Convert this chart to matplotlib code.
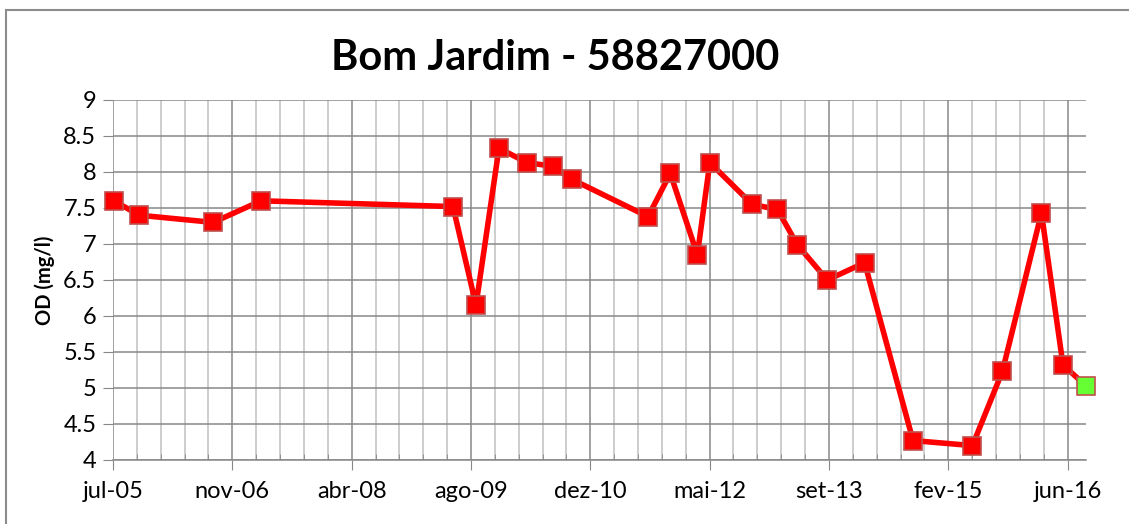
import numpy as np
import matplotlib
matplotlib.use('Agg')
import matplotlib.pyplot as plt
import matplotlib.dates as mdates
from matplotlib.ticker import FixedLocator, FuncFormatter
from matplotlib.patches import Rectangle

# sample dates and dissolved oxygen (mg/l)
dates = ['2005-07-22', '2005-11-04', '2006-09-09', '2007-03-28', '2009-06-06',
         '2009-09-10', '2009-12-15', '2010-04-11', '2010-07-27', '2010-10-14',
         '2011-08-29', '2011-11-30', '2012-03-22', '2012-05-13', '2012-11-06',
         '2013-02-19', '2013-05-13', '2013-09-15', '2014-02-18', '2014-09-08',
         '2015-05-14', '2015-09-16', '2016-02-26', '2016-05-26', '2016-08-30']
od = [7.6, 7.4, 7.3, 7.6, 7.52,
      6.15, 8.33, 8.13, 8.08, 7.9,
      7.38, 7.98, 6.85, 8.13, 7.55,
      7.48, 6.99, 6.5, 6.74, 4.27,
      4.2, 5.23, 7.43, 5.32, 5.03]

title = 'Bom Jardim - 58827000'
ylabel = 'OD (mg/l)'
axis_start = '2005-07-18'
major_days = 498
meses = ['jan', 'fev', 'mar', 'abr', 'mai', 'jun', 'jul', 'ago', 'set', 'out', 'nov', 'dez']

plt.rcParams['font.family'] = ['Lato', 'DejaVu Sans']

x = mdates.datestr2num(dates)
x0 = mdates.datestr2num(axis_start)

fig = plt.figure(figsize=(11.29, 5.24), dpi=100)
ax = fig.add_axes([113/1129, 1 - 460/524, (1086 - 113)/1129, 360/524])

# chart frame
fig.patches.append(Rectangle((6/1129, -0.1), 1.2, 1 - 10/524 + 0.1, transform=fig.transFigure,
                             fill=False, edgecolor='#8c8c8c', linewidth=1.5))

ax.plot(x, od, color='#ff0000', linewidth=4, zorder=3, clip_on=False)
ax.plot(x[:-1], od[:-1], linestyle='none', marker='s', markersize=13.5, clip_on=False,
        markerfacecolor='#ff0000', markeredgecolor='#c0504d', markeredgewidth=1.2, zorder=4)
ax.plot(x[-1:], od[-1:], linestyle='none', marker='s', markersize=13.5, clip_on=False,
        markerfacecolor='#66ff33', markeredgecolor='#c0504d', markeredgewidth=1.2, zorder=4)

ax.set_xlim(x0, x[-1])
ax.set_ylim(4, 9)
ax.set_yticks(np.arange(4, 9.01, 0.5))
ax.yaxis.set_major_formatter(FuncFormatter(lambda v, p: '%g' % v))

majors = [x0 + k * major_days for k in range(9)]
minors = [x0 + k * major_days / 5.0 for k in range(45) if k % 5 != 0]
ax.xaxis.set_major_locator(FixedLocator(majors))
ax.xaxis.set_minor_locator(FixedLocator(minors))

def fmt_data(v, pos):
    d = mdates.num2date(v)
    return '%s-%02d' % (meses[d.month - 1], d.year % 100)

ax.xaxis.set_major_formatter(FuncFormatter(fmt_data))

ax.grid(which='major', axis='both', color='#888888', linewidth=1.1)
ax.grid(which='minor', axis='x', color='#c0c0c0', linewidth=1.1)
ax.set_axisbelow(True)

for s in ['top', 'right', 'left']:
    ax.spines[s].set_visible(False)
ax.spines['bottom'].set_color('#888888')
ax.spines['bottom'].set_linewidth(1.1)

ax.tick_params(axis='y', which='major', length=7, color='#888888', labelsize=17, pad=5)
ax.tick_params(axis='x', which='major', length=7, color='#888888', labelsize=17, pad=8)
ax.tick_params(axis='x', which='minor', direction='in', length=4, color='#888888')

ax.set_ylabel(ylabel, fontsize=14.5, fontweight='bold', labelpad=6)
fig.text(555/1129, 1 - 58/524, title, fontsize=30, fontweight='bold', ha='center', va='center')

fig.savefig('out.png', dpi=100)
